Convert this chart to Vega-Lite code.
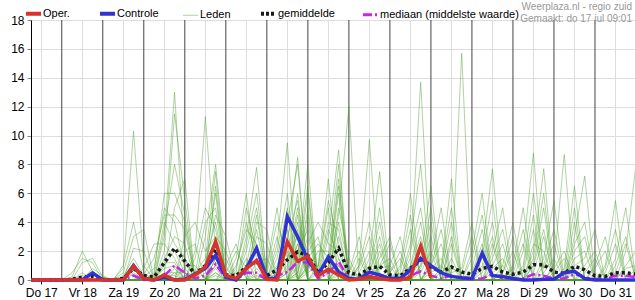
{
 "$schema": "https://vega.github.io/schema/vega-lite/v6.json",
 "width": 605, "height": 260,
 "autosize": {"type": "none"},
 "padding": {"left": 31, "top": 20, "right": 0, "bottom": 20},
 "title": {"text": "Weerplaza.nl - regio zuid", "subtitle": "Gemaakt: do 17 jul 09:01", "anchor": "end", "frame": "group", "fontSize": 10, "subtitleFontSize": 10, "color": "#999999", "subtitleColor": "#999999", "fontWeight": "normal", "font": "Liberation Sans", "subtitleFont": "Liberation Sans", "offset": -16, "subtitlePadding": 2, "dx": -4},
 "config": {"view": {"stroke": "#000000", "strokeWidth": 1}, "font": "Liberation Sans", "axisY": {"labelOverlap": false}},
 "datasets": {
  "days": [{"time":24},{"time":48},{"time":72},{"time":96},{"time":120},{"time":144},{"time":168},{"time":192},{"time":216},{"time":240},{"time":264},{"time":288},{"time":312},{"time":336}],
  "main": [
   {"time":6,"O":0,"C":0,"G":0,"M":0},
   {"time":12,"O":0,"C":0,"G":0,"M":0},
   {"time":18,"O":0,"C":0,"G":0,"M":0},
   {"time":24,"O":0,"C":0,"G":0,"M":0},
   {"time":30,"O":0,"C":0,"G":0.05,"M":0},
   {"time":36,"O":0,"C":0,"G":0.2,"M":0},
   {"time":42,"O":0,"C":0.5,"G":0.25,"M":0},
   {"time":48,"O":0,"C":0,"G":0.05,"M":0},
   {"time":54,"O":0,"C":0,"G":0,"M":0},
   {"time":60,"O":0,"C":0,"G":0.1,"M":0},
   {"time":66,"O":0.95,"C":1.0,"G":0.8,"M":0.3},
   {"time":72,"O":0.1,"C":0.1,"G":0.3,"M":0},
   {"time":78,"O":0,"C":0,"G":0.2,"M":0},
   {"time":84,"O":0.35,"C":0.2,"G":1.2,"M":0.3},
   {"time":90,"O":0,"C":0,"G":2.2,"M":1.0},
   {"time":96,"O":0,"C":0.05,"G":1.3,"M":0.5},
   {"time":102,"O":0.35,"C":0.4,"G":0.4,"M":0.1},
   {"time":108,"O":0.9,"C":0.8,"G":1.0,"M":0.3},
   {"time":114,"O":2.65,"C":1.7,"G":2.1,"M":1.1},
   {"time":120,"O":0.3,"C":0.2,"G":0.35,"M":0.1},
   {"time":126,"O":0.1,"C":0,"G":0.3,"M":0},
   {"time":132,"O":0.8,"C":0.8,"G":0.9,"M":0.5},
   {"time":138,"O":1.35,"C":2.2,"G":1.3,"M":0.5},
   {"time":144,"O":0.05,"C":0.1,"G":0.3,"M":0},
   {"time":150,"O":0,"C":0.1,"G":0.7,"M":0.3},
   {"time":156,"O":2.65,"C":4.4,"G":1.4,"M":0.55},
   {"time":162,"O":1.3,"C":3.0,"G":1.95,"M":1.25},
   {"time":168,"O":1.65,"C":1.4,"G":1.7,"M":1.2},
   {"time":174,"O":0.3,"C":0.35,"G":0.5,"M":0.1},
   {"time":180,"O":0.75,"C":1.6,"G":1.2,"M":0.5},
   {"time":186,"O":0.35,"C":0.55,"G":2.2,"M":1.25},
   {"time":192,"O":0,"C":0.1,"G":0.5,"M":0.1},
   {"time":198,"O":0.05,"C":0.05,"G":0.35,"M":0.05},
   {"time":204,"O":0.2,"C":0.55,"G":0.8,"M":0.3},
   {"time":210,"O":0.1,"C":0.35,"G":0.95,"M":0.2},
   {"time":216,"O":0,"C":0.1,"G":0.35,"M":0.05},
   {"time":222,"O":0,"C":0.1,"G":0.3,"M":0},
   {"time":228,"O":0.2,"C":0.7,"G":0.8,"M":0.3},
   {"time":234,"O":2.35,"C":1.5,"G":1.4,"M":0.6},
   {"time":240,"O":0.15,"C":1.0,"G":0.9,"M":0.3},
   {"time":246,"C":0.5,"G":0.55,"M":0.1},
   {"time":252,"C":0.25,"G":0.9,"M":0.3},
   {"time":258,"C":0.15,"G":0.55,"M":0.1},
   {"time":264,"C":0.1,"G":0.4,"M":0.05},
   {"time":270,"C":1.85,"G":0.8,"M":0.1},
   {"time":276,"C":0.3,"G":0.95,"M":0.4},
   {"time":282,"C":0.25,"G":0.55,"M":0.1},
   {"time":288,"C":0.1,"G":0.4,"M":0.05},
   {"time":294,"C":0,"G":0.55,"M":0.1},
   {"time":300,"C":0,"G":1.05,"M":0.4},
   {"time":306,"C":0.05,"G":1.05,"M":0.3},
   {"time":312,"C":0.05,"G":0.55,"M":0.1},
   {"time":318,"C":0.5,"G":0.45,"M":0.1},
   {"time":324,"C":0.6,"G":0.95,"M":0.4},
   {"time":330,"C":0.1,"G":0.7,"M":0.2},
   {"time":336,"C":0,"G":0.3,"M":0.05},
   {"time":342,"C":0,"G":0.25,"M":0.05},
   {"time":348,"C":0,"G":0.5,"M":0.3},
   {"time":354,"C":0,"G":0.5,"M":0.3},
   {"time":360,"C":0,"G":0.4,"M":0.2}
  ],
  "members": [
   {"time":6,"a":0,"b":0,"c":0,"d":0,"e":0,"f":0,"g":0,"h":0,"i":0,"j":0,"k":0,"l":0,"m":0,"n":0,"o":0,"p":0,"q":0,"r":0,"s":0,"t":0,"u":0,"v":0,"w":0,"x":0,"y":0,"z":0,"A":0,"B":0,"C":0,"D":0},
   {"time":12,"a":0,"b":0,"c":0,"d":0,"e":0,"f":0,"g":0,"h":0,"i":0,"j":0,"k":0,"l":0,"m":0,"n":0,"o":0,"p":0,"q":0,"r":0,"s":0,"t":0,"u":0,"v":0,"w":0,"x":0,"y":0,"z":0,"A":0,"B":0,"C":0,"D":0},
   {"time":18,"a":0,"b":0,"c":0,"d":0,"e":0,"f":0,"g":0,"h":0,"i":0,"j":0,"k":0,"l":0,"m":0,"n":0,"o":0,"p":0,"q":0,"r":0,"s":0,"t":0,"u":0,"v":0,"w":0,"x":0,"y":0,"z":0,"A":0,"B":0,"C":0,"D":0},
   {"time":24,"a":0,"b":0,"c":0,"d":0,"e":0,"f":0,"g":0,"h":0,"i":0,"j":0,"k":0,"l":0,"m":0,"n":0,"o":0,"p":0,"q":0,"r":0,"s":0,"t":0,"u":0,"v":0,"w":0,"x":0,"y":0,"z":0,"A":0,"B":0,"C":0,"D":0},
   {"time":30,"a":0,"b":0,"c":0,"d":0,"e":0.2,"f":0,"g":0,"h":0,"i":0,"j":0,"k":0,"l":0,"m":0,"n":0,"o":0,"p":0,"q":0,"r":0.5,"s":0,"t":0,"u":0,"v":0,"w":0,"x":0,"y":0,"z":0,"A":0,"B":0,"C":0,"D":0},
   {"time":36,"a":0,"b":0,"c":0,"d":0,"e":2,"f":0,"g":0,"h":0,"i":0,"j":1.2,"k":0,"l":0,"m":0.3,"n":0,"o":0,"p":0,"q":0,"r":1.5,"s":0,"t":0,"u":0,"v":0,"w":0.5,"x":0,"y":0,"z":0,"A":0,"B":0,"C":0,"D":0},
   {"time":42,"a":0,"b":0,"c":0.5,"d":0,"e":0.6,"f":0,"g":0,"h":0,"i":0,"j":1.5,"k":0,"l":0,"m":0,"n":0,"o":0.4,"p":0,"q":0,"r":1.2,"s":0,"t":0,"u":0,"v":0,"w":0,"x":0,"y":0,"z":0.8,"A":0,"B":0,"C":0,"D":0},
   {"time":48,"a":0,"b":0,"c":0,"d":0,"e":0,"f":0,"g":0,"h":0,"i":0,"j":0.2,"k":0,"l":0,"m":0,"n":0,"o":0,"p":0,"q":0,"r":0,"s":0,"t":0,"u":0,"v":0,"w":0,"x":0,"y":0,"z":0.3,"A":0,"B":0,"C":0,"D":0},
   {"time":54,"a":0,"b":0,"c":0,"d":0,"e":0,"f":0,"g":0,"h":0,"i":0,"j":0,"k":0,"l":0,"m":0,"n":0,"o":0,"p":0,"q":0,"r":0,"s":0,"t":0,"u":0,"v":0,"w":0,"x":0,"y":0,"z":0,"A":0,"B":0,"C":0,"D":0},
   {"time":60,"a":0,"b":0,"c":0,"d":1,"e":0,"f":0,"g":0,"h":0,"i":0,"j":0,"k":0,"l":0.8,"m":0,"n":0,"o":0,"p":0.2,"q":0,"r":0,"s":0,"t":0,"u":0.5,"v":0,"w":0,"x":0,"y":0,"z":0,"A":0,"B":0.3,"C":0,"D":0},
   {"time":66,"a":0.8,"b":0,"c":0,"d":4,"e":0,"f":0,"g":0,"h":2.2,"i":0,"j":0,"k":0,"l":10.3,"m":0,"n":0,"o":0,"p":1.2,"q":0,"r":0,"s":0.5,"t":0,"u":3,"v":0,"w":0,"x":0,"y":1,"z":0,"A":0,"B":1.5,"C":0,"D":0.4},
   {"time":72,"a":0,"b":0,"c":0,"d":0.5,"e":0,"f":0.2,"g":0,"h":2,"i":0,"j":0,"k":0,"l":1,"m":0,"n":0.8,"o":0,"p":0,"q":0,"r":0,"s":0,"t":0,"u":3.5,"v":0,"w":0.4,"x":0,"y":0,"z":0,"A":0,"B":0.3,"C":0,"D":0},
   {"time":78,"a":0,"b":0,"c":0,"d":0,"e":0,"f":0.8,"g":0,"h":0,"i":0,"j":0,"k":0,"l":0,"m":0,"n":2.5,"o":0,"p":0,"q":0.5,"r":0,"s":0,"t":0,"u":0,"v":0,"w":1.5,"x":0,"y":0,"z":0,"A":0,"B":0,"C":0.3,"D":0},
   {"time":84,"a":0,"b":3.5,"c":1.2,"d":0,"e":0,"f":5,"g":0.5,"h":0,"i":3,"j":0,"k":1,"l":0,"m":0,"n":2.5,"o":0.5,"p":0,"q":6,"r":0,"s":0,"t":1.5,"u":0,"v":0,"w":4.5,"x":0,"y":0.8,"z":0,"A":2,"B":0,"C":4,"D":0.3},
   {"time":90,"a":0,"b":8,"c":1.2,"d":0,"e":0.8,"f":4,"g":0.5,"h":0,"i":13,"j":0,"k":2,"l":0,"m":0,"n":1.5,"o":5,"p":0,"q":6,"r":0,"s":0,"t":3,"u":0,"v":0,"w":4.5,"x":0.5,"y":1,"z":0,"A":11.5,"B":0,"C":2.5,"D":0.3},
   {"time":96,"a":3,"b":4.5,"c":0,"d":0.3,"e":0,"f":0.8,"g":0,"h":1,"i":1.5,"j":0,"k":0.5,"l":2,"m":0,"n":0,"o":7,"p":0,"q":4,"r":0,"s":0,"t":2.5,"u":0,"v":0,"w":3.5,"x":0.5,"y":0,"z":0,"A":5.5,"B":0,"C":1.5,"D":0},
   {"time":102,"a":4,"b":0,"c":0,"d":0.5,"e":0,"f":0,"g":0,"h":1,"i":0,"j":0,"k":0,"l":2.5,"m":0,"n":0,"o":0,"p":0,"q":0,"r":0,"s":1.5,"t":0,"u":0,"v":0.5,"w":0,"x":0,"y":0,"z":2,"A":0,"B":0,"C":0,"D":0},
   {"time":108,"a":2,"b":0,"c":0,"d":4,"e":0,"f":0,"g":0.5,"h":0,"i":0,"j":1.2,"k":0,"l":0,"m":3,"n":0,"o":0,"p":0.8,"q":0,"r":0,"s":5,"t":0,"u":0,"v":1.5,"w":0,"x":0,"y":0,"z":11.3,"A":0,"B":1,"C":0,"D":0},
   {"time":114,"a":3,"b":0,"c":2,"d":5,"e":0,"f":1,"g":6.5,"h":0,"i":1.5,"j":4,"k":0,"l":1.5,"m":8,"n":0,"o":0.8,"p":4.5,"q":0,"r":0.5,"s":3.5,"t":0,"u":1,"v":7.5,"w":0,"x":0.5,"y":3,"z":2,"A":0.3,"B":6,"C":0,"D":2.5},
   {"time":120,"a":0,"b":0.5,"c":0,"d":0,"e":0,"f":1.5,"g":0,"h":0,"i":0,"j":0.3,"k":0,"l":0,"m":1,"n":0,"o":0,"p":3,"q":0,"r":0,"s":0,"t":0,"u":0.8,"v":0,"w":0,"x":0,"y":2,"z":0,"A":0,"B":0,"C":1,"D":0},
   {"time":126,"a":0,"b":2,"c":0,"d":0,"e":0.5,"f":0,"g":0,"h":0,"i":0,"j":0,"k":1,"l":0,"m":0,"n":0,"o":0,"p":0,"q":0,"r":1.5,"s":0,"t":0,"u":0,"v":0,"w":0.8,"x":0,"y":0,"z":0,"A":0,"B":0,"C":2.5,"D":0},
   {"time":132,"a":0,"b":0.8,"c":0,"d":0,"e":5,"f":0,"g":0,"h":2,"i":0,"j":0,"k":3.5,"l":0,"m":0,"n":2.5,"o":0,"p":0,"q":0,"r":6,"s":0,"t":1,"u":0,"v":0,"w":4,"x":0,"y":0.5,"z":0,"A":1.5,"B":0,"C":0,"D":3},
   {"time":138,"a":0.8,"b":0,"c":4,"d":0,"e":2,"f":0,"g":0,"h":5,"i":0,"j":0,"k":2.5,"l":0.3,"m":0,"n":6,"o":0.5,"p":0,"q":3,"r":0,"s":0,"t":4.5,"u":0,"v":0,"w":1.5,"x":0,"y":3.5,"z":0,"A":0,"B":1.2,"C":0,"D":7.8},
   {"time":144,"a":0,"b":0,"c":3.5,"d":0,"e":0,"f":0.5,"g":0,"h":0,"i":1,"j":0,"k":0,"l":0,"m":0,"n":0.5,"o":0,"p":0,"q":2.5,"r":0,"s":0,"t":0,"u":0.8,"v":0,"w":0,"x":0,"y":0,"z":0,"A":0,"B":1.5,"C":0,"D":0},
   {"time":150,"a":0,"b":1.5,"c":0,"d":0,"e":0,"f":3,"g":0,"h":0,"i":5,"j":0,"k":0,"l":1,"m":0,"n":0,"o":2.5,"p":0,"q":0,"r":0.5,"s":0,"t":0,"u":4,"v":0,"w":0,"x":0.8,"y":0,"z":0,"A":2,"B":0,"C":0,"D":0.5},
   {"time":156,"a":0.5,"b":5,"c":0,"d":1.5,"e":0,"f":0,"g":2.5,"h":0,"i":0,"j":1,"k":0,"l":3.5,"m":0,"n":0,"o":9.5,"p":0.5,"q":0,"r":3,"s":0,"t":0,"u":1.5,"v":0,"w":0,"x":4,"y":0,"z":0,"A":6,"B":0.8,"C":0,"D":2},
   {"time":162,"a":4,"b":0,"c":2,"d":6,"e":0,"f":0,"g":8.5,"h":1,"i":0,"j":5,"k":0.8,"l":0,"m":3.5,"n":0.5,"o":0,"p":2.5,"q":0,"r":5.5,"s":1.5,"t":0,"u":3,"v":0.5,"w":0,"x":8,"y":2.5,"z":0.3,"A":0,"B":4.5,"C":1.5,"D":0},
   {"time":168,"a":0,"b":0.8,"c":3.5,"d":0,"e":2,"f":0,"g":0,"h":4.5,"i":0,"j":0,"k":6,"l":1,"m":0,"n":3,"o":0,"p":0,"q":2.5,"r":0,"s":8,"t":1.5,"u":0,"v":5,"w":0.5,"x":0,"y":2,"z":4,"A":0,"B":0,"C":6.5,"D":1},
   {"time":174,"a":0,"b":2,"c":0,"d":0,"e":3,"f":0,"g":0,"h":0,"i":1,"j":0,"k":0,"l":0,"m":0.5,"n":0,"o":0,"p":0,"q":4,"r":0,"s":0,"t":2.5,"u":0,"v":0,"w":1,"x":0,"y":0,"z":0,"A":0.8,"B":0,"C":0,"D":0.3},
   {"time":180,"a":0,"b":2,"c":0,"d":0.5,"e":0,"f":3,"g":0,"h":0,"i":5.5,"j":0,"k":1,"l":0,"m":4,"n":0,"o":0,"p":0,"q":2.5,"r":0,"s":0,"t":1.5,"u":0,"v":0,"w":7,"x":0.8,"y":0,"z":0,"A":5,"B":0,"C":0,"D":3.5},
   {"time":186,"a":4,"b":0,"c":1,"d":6,"e":0,"f":9,"g":0.8,"h":0,"i":2.5,"j":0,"k":7,"l":0.5,"m":3.5,"n":0,"o":5,"p":0,"q":2,"r":0,"s":1,"t":8,"u":0,"v":3,"w":0,"x":6.5,"y":0.3,"z":1.5,"A":0,"B":4.5,"C":0,"D":1.5},
   {"time":192,"a":1,"b":0,"c":0,"d":0,"e":0,"f":0,"g":0,"h":0,"i":0,"j":0.5,"k":0,"l":0,"m":0,"n":0,"o":1.5,"p":0,"q":0,"r":0,"s":0,"t":0,"u":0,"v":0.5,"w":0,"x":0,"y":0,"z":0,"A":0,"B":12,"C":0,"D":0},
   {"time":198,"a":0,"b":0,"c":0.5,"d":0,"e":1,"f":0,"g":0,"h":0,"i":0,"j":2,"k":0,"l":0,"m":0,"n":0,"o":0,"p":1,"q":0,"r":0,"s":0,"t":0,"u":0,"v":3,"w":0,"x":0,"y":0.8,"z":0,"A":0,"B":0,"C":1.5,"D":0},
   {"time":204,"a":0,"b":0,"c":2,"d":0,"e":9.7,"f":0,"g":0,"h":0.8,"i":0,"j":0,"k":0,"l":1.5,"m":0,"n":0,"o":0,"p":4,"q":0,"r":0.5,"s":0,"t":0,"u":1,"v":0,"w":0,"x":0,"y":3,"z":0,"A":0.5,"B":0,"C":0,"D":1},
   {"time":210,"a":0,"b":2,"c":0,"d":0,"e":0,"f":1,"g":0,"h":4,"i":0,"j":0,"k":0,"l":7.5,"m":0,"n":1.5,"o":0,"p":0,"q":0,"r":3,"s":0.8,"t":0,"u":5,"v":0,"w":0,"x":1,"y":0,"z":0,"A":2.5,"B":0,"C":0.5,"D":0},
   {"time":216,"a":1,"b":0,"c":0,"d":0,"e":0,"f":1.5,"g":0,"h":0,"i":0,"j":0,"k":0.5,"l":0,"m":0,"n":3,"o":0,"p":0,"q":0,"r":0,"s":1,"t":0,"u":0,"v":0,"w":0,"x":2.5,"y":0,"z":0.5,"A":0,"B":0,"C":0,"D":0},
   {"time":222,"a":3,"b":0,"c":0,"d":0,"e":0,"f":0,"g":1,"h":0,"i":0,"j":0,"k":2,"l":0,"m":0,"n":0,"o":0,"p":0,"q":0.8,"r":0,"s":0,"t":0,"u":0,"v":0,"w":0.5,"x":0,"y":0,"z":1.5,"A":0,"B":0,"C":0,"D":0},
   {"time":228,"a":0,"b":0.8,"c":0,"d":2.5,"e":0,"f":0,"g":6,"h":0,"i":0,"j":1,"k":0,"l":0,"m":2,"n":0,"o":0.5,"p":0,"q":4.5,"r":0,"s":0,"t":1.5,"u":0,"v":0,"w":3.5,"x":0,"y":0,"z":0,"A":0,"B":0,"C":1,"D":0},
   {"time":234,"a":0,"b":2.5,"c":0,"d":8,"e":0,"f":0,"g":0,"h":1,"i":0,"j":3,"k":0,"l":0,"m":5,"n":0,"o":2,"p":0,"q":0,"r":1,"s":0,"t":13.7,"u":0,"v":0.8,"w":0,"x":0,"y":1.5,"z":0,"A":0.5,"B":0,"C":4,"D":0},
   {"time":240,"a":0,"b":0,"c":1.5,"d":0,"e":0,"f":0.5,"g":0,"h":5,"i":0,"j":0,"k":0,"l":1,"m":0,"n":0,"o":0,"p":1,"q":0,"r":4,"s":0,"t":0.5,"u":0,"v":3,"w":0,"x":0,"y":6.5,"z":0,"A":2,"B":0,"C":0,"D":0.8},
   {"time":246,"a":0,"b":0,"c":5,"d":0,"e":0,"f":1,"g":0,"h":0,"i":0.8,"j":0,"k":0,"l":3.5,"m":0,"n":0,"o":0,"p":2.5,"q":0,"r":0,"s":0,"t":0,"u":0.8,"v":0,"w":0,"x":0,"y":0,"z":0.5,"A":0,"B":0,"C":0,"D":1.5},
   {"time":252,"a":2.5,"b":0,"c":0,"d":0,"e":0.8,"f":0,"g":0,"h":0,"i":5,"j":0,"k":0.5,"l":0,"m":0,"n":3,"o":0,"p":0,"q":0,"r":1.5,"s":0,"t":0,"u":7,"v":0,"w":0.5,"x":0,"y":0,"z":4,"A":0,"B":1,"C":0,"D":0},
   {"time":258,"a":0,"b":0,"c":0,"d":0,"e":0.5,"f":0,"g":0,"h":0,"i":0,"j":0,"k":15.7,"l":0,"m":0,"n":0,"o":0,"p":0,"q":0,"r":0,"s":0,"t":0,"u":0,"v":0,"w":0.8,"x":0,"y":0,"z":0,"A":0,"B":0,"C":0,"D":0},
   {"time":264,"a":0,"b":0,"c":0,"d":0,"e":3,"f":0,"g":0,"h":0,"i":0,"j":0.8,"k":0,"l":0,"m":0,"n":0.5,"o":0,"p":0,"q":2,"r":0,"s":0,"t":0,"u":0,"v":0,"w":4,"x":0,"y":0,"z":0,"A":0,"B":1.5,"C":0,"D":0},
   {"time":270,"a":0,"b":2,"c":0,"d":0,"e":0,"f":0,"g":1,"h":0,"i":0,"j":3.5,"k":0,"l":0,"m":0,"n":2.5,"o":0,"p":0,"q":6,"r":0,"s":0.8,"t":0,"u":0,"v":0,"w":0,"x":0,"y":1.5,"z":0,"A":0,"B":4.5,"C":0,"D":0.5},
   {"time":276,"a":0,"b":7.7,"c":0,"d":1,"e":0,"f":0,"g":4,"h":0,"i":0,"j":0,"k":0,"l":2,"m":0,"n":0,"o":0.8,"p":0,"q":0,"r":0,"s":3,"t":0,"u":1.5,"v":0,"w":0,"x":0,"y":5.5,"z":0,"A":0.5,"B":0,"C":0,"D":2.5},
   {"time":282,"a":0.5,"b":0,"c":0,"d":2.5,"e":0,"f":0,"g":0,"h":1,"i":0,"j":0,"k":0,"l":5,"m":0,"n":0,"o":1.5,"p":0,"q":0,"r":0.5,"s":0,"t":0,"u":3.5,"v":0,"w":0,"x":0,"y":0,"z":0,"A":1,"B":0,"C":0,"D":0},
   {"time":288,"a":2,"b":0,"c":0,"d":0,"e":0,"f":0,"g":0,"h":4,"i":0,"j":0,"k":0,"l":0,"m":0.8,"n":0,"o":0,"p":0,"q":0,"r":3,"s":0,"t":0,"u":0,"v":0,"w":0,"x":1,"y":0,"z":0,"A":0,"B":0,"C":0.5,"D":0},
   {"time":294,"a":0,"b":0,"c":0.5,"d":0,"e":0,"f":2,"g":0,"h":0,"i":0,"j":0,"k":0,"l":0,"m":3.5,"n":0,"o":0,"p":0.8,"q":0,"r":0,"s":0,"t":1,"u":0,"v":0,"w":0,"x":5,"y":0,"z":0,"A":0,"B":0,"C":2.5,"D":0},
   {"time":300,"a":0.5,"b":0,"c":3.5,"d":0,"e":0,"f":8.8,"g":0,"h":0,"i":0,"j":2,"k":0,"l":0,"m":0,"n":1,"o":0,"p":4.5,"q":0,"r":0,"s":0,"t":6,"u":0,"v":1.5,"w":0,"x":0,"y":0,"z":2.5,"A":0,"B":1,"C":0,"D":0},
   {"time":306,"a":3,"b":0,"c":0,"d":0,"e":1,"f":0,"g":0,"h":0,"i":0,"j":7.7,"k":0,"l":0.5,"m":0,"n":5,"o":0,"p":0,"q":0,"r":1.5,"s":0,"t":0.8,"u":0,"v":6,"w":0,"x":0,"y":0,"z":2,"A":0,"B":3.5,"C":0,"D":0},
   {"time":312,"a":0,"b":0,"c":0,"d":0,"e":3.5,"f":0,"g":0.8,"h":0,"i":0,"j":0,"k":0,"l":1.5,"m":0,"n":0,"o":0,"p":0,"q":0,"r":5.5,"s":0,"t":2.5,"u":0,"v":0,"w":0,"x":0.5,"y":0,"z":0,"A":0,"B":0,"C":0,"D":1},
   {"time":318,"a":0,"b":0,"c":0,"d":0,"e":0,"f":0,"g":2,"h":0,"i":0,"j":0,"k":0.5,"l":0,"m":0,"n":0,"o":0.8,"p":0,"q":0,"r":0,"s":0,"t":0,"u":0,"v":0,"w":0,"x":1.5,"y":0,"z":0,"A":0,"B":0,"C":0,"D":8.7},
   {"time":324,"a":0,"b":4,"c":0,"d":1,"e":0,"f":0,"g":0,"h":0,"i":2,"j":0,"k":5,"l":0,"m":0,"n":0,"o":6.5,"p":0,"q":0.5,"r":0,"s":2.5,"t":0,"u":0,"v":0,"w":1.5,"x":0,"y":0,"z":0,"A":3,"B":0,"C":0.8,"D":0},
   {"time":330,"a":0,"b":0,"c":0,"d":1.5,"e":0,"f":0,"g":0,"h":0,"i":3,"j":0,"k":0,"l":0,"m":1,"n":0,"o":0,"p":0,"q":0,"r":0,"s":4,"t":0,"u":0.5,"v":0,"w":2,"x":0,"y":0,"z":0,"A":7.2,"B":0,"C":0.8,"D":0},
   {"time":336,"a":0,"b":0,"c":0,"d":3.5,"e":0,"f":0,"g":0,"h":1,"i":0,"j":0,"k":0,"l":0,"m":2,"n":0,"o":0,"p":0,"q":0,"r":0,"s":0,"t":0,"u":1.5,"v":0,"w":0,"x":0,"y":0,"z":0.8,"A":0,"B":0,"C":0,"D":0},
   {"time":342,"a":0,"b":0.8,"c":0,"d":0,"e":0,"f":0,"g":0,"h":3,"i":0,"j":0,"k":0,"l":0,"m":0,"n":0,"o":0,"p":1,"q":0,"r":0,"s":0,"t":0.5,"u":0,"v":0,"w":0,"x":0,"y":0,"z":2,"A":0,"B":0,"C":0,"D":0},
   {"time":348,"a":0,"b":3.5,"c":0,"d":0,"e":0,"f":0,"g":0.5,"h":0,"i":0,"j":0,"k":1.5,"l":0,"m":0,"n":0,"o":0,"p":5.5,"q":0,"r":0,"s":0,"t":2.5,"u":0,"v":0,"w":0,"x":0,"y":0,"z":0,"A":0,"B":1,"C":0,"D":0},
   {"time":354,"a":0,"b":0,"c":0,"d":0,"e":0,"f":0,"g":2.5,"h":0,"i":0,"j":0,"k":5,"l":0,"m":0,"n":1,"o":0,"p":0,"q":0,"r":0,"s":0,"t":0,"u":0,"v":2,"w":0,"x":0,"y":0.8,"z":0,"A":0,"B":3,"C":0,"D":0},
   {"time":360,"a":0,"b":0,"c":0.8,"d":0,"e":0,"f":0,"g":0,"h":0,"i":0,"j":0,"k":0,"l":0,"m":0,"n":2,"o":0,"p":0,"q":0,"r":0,"s":0,"t":0,"u":0,"v":8,"w":0,"x":0,"y":1,"z":0,"A":0,"B":0,"C":0,"D":0}
  ]
 },
 "layer": [
  {
   "data": {"name": "days"},
   "mark": {"type": "rule", "color": "#444444", "strokeWidth": 1},
   "encoding": {
    "x": {"field": "time", "type": "quantitative", "scale": {"domain": [6, 360], "nice": false, "zero": false},
     "axis": {"title": null, "values": [12,18,24,30,36,42,48,54,60,66,72,78,84,90,96,102,108,114,120,126,132,138,144,150,156,162,168,174,180,186,192,198,204,210,216,222,228,234,240,246,252,258,264,270,276,282,288,294,300,306,312,318,324,330,336,342,348,354],
      "grid": true, "gridColor": "#dddddd", "gridWidth": 1, "tickColor": "#000000", "tickSize": 4, "domainColor": "#000000",
      "labelExpr": "datum.value % 24 == 12 ? ['Do 17','Vr 18','Za 19','Zo 20','Ma 21','Di 22','Wo 23','Do 24','Vr 25','Za 26','Zo 27','Ma 28','Di 29','Wo 30','Do 31'][floor(datum.value/24)] : ''",
      "labelFontSize": 12, "labelColor": "#000000", "labelFont": "Liberation Sans", "labelPadding": 3, "labelOverlap": false, "labelFlush": false}}
   }
  },
  {
   "data": {"name": "members"},
   "transform": [{"fold": ["a","b","c","d","e","f","g","h","i","j","k","l","m","n","o","p","q","r","s","t","u","v","w","x","y","z","A","B","C","D"], "as": ["mem", "v"]}],
   "mark": {"type": "line", "color": "#4d9e2f", "opacity": 0.45, "strokeWidth": 1},
   "encoding": {
    "x": {"field": "time", "type": "quantitative"},
    "y": {"field": "v", "type": "quantitative", "scale": {"domain": [0, 18], "nice": false},
     "axis": {"title": null, "values": [0,2,4,6,8,10,12,14,16,18], "labelOverlap": false, "grid": true, "gridColor": "#dddddd", "tickColor": "#888888", "tickSize": 4, "domainColor": "#000000", "labelFontSize": 12, "labelColor": "#000000", "labelFont": "Liberation Sans", "labelPadding": 3}},
    "detail": {"field": "mem", "type": "nominal"}
   }
  },
  {
   "data": {"name": "main"},
   "transform": [{"fold": ["M", "G", "C", "O"], "as": ["key", "val"]}],
   "encoding": {
    "x": {"field": "time", "type": "quantitative"},
    "y": {"field": "val", "type": "quantitative",
     "axis": {"title": null, "values": [0,2,4,6,8,10,12,14,16,18], "labelOverlap": false, "grid": true, "gridColor": "#dddddd", "tickColor": "#888888", "tickSize": 4, "domainColor": "#000000", "labelFontSize": 12, "labelColor": "#000000", "labelFont": "Liberation Sans", "labelPadding": 3}},
    "color": {"field": "key", "type": "nominal",
     "scale": {"domain": ["O", "C", "L", "G", "M"], "range": ["#d8322c", "#3232d2", "#4d9e2f", "#1a1a1a", "#cc22ee"]},
     "legend": {"orient": "none", "legendX": -3, "legendY": -12, "direction": "horizontal", "title": null, "padding": 0,
      "symbolType": "stroke", "symbolSize": 225, "symbolStrokeWidth": 4, "labelFontSize": 11, "labelFont": "Liberation Sans", "labelColor": "#000000", "labelOffset": 4, "columnPadding": 22,
      "labelExpr": "datum.label == 'O' ? 'Oper.' : datum.label == 'C' ? 'Controle' : datum.label == 'L' ? 'Leden' : datum.label == 'G' ? 'gemiddelde' : 'mediaan (middelste waarde)'",
      "encode": {"symbols": {"update": {
        "strokeDash": {"signal": "datum.value == 'G' ? [3,2] : datum.value == 'M' ? [9,3,2,3] : [1,0]"},
        "strokeWidth": {"signal": "datum.value == 'L' ? 1 : datum.value == 'M' ? 3 : 4"},
        "opacity": {"signal": "datum.value == 'L' ? 0.45 : 1"}}}}}}
   },
   "layer": [
    {"transform": [{"filter": "datum.key === 'M'"}], "mark": {"type": "line", "strokeWidth": 2.5, "strokeDash": [9, 3, 2, 3]}},
    {"transform": [{"filter": "datum.key === 'G'"}], "mark": {"type": "line", "strokeWidth": 3.5, "strokeDash": [3, 3]}},
    {"transform": [{"filter": "datum.key === 'C'"}], "mark": {"type": "line", "strokeWidth": 3.5}},
    {"transform": [{"filter": "datum.key === 'O'"}], "mark": {"type": "line", "strokeWidth": 3.5}}
   ]
  }
 ]
}
